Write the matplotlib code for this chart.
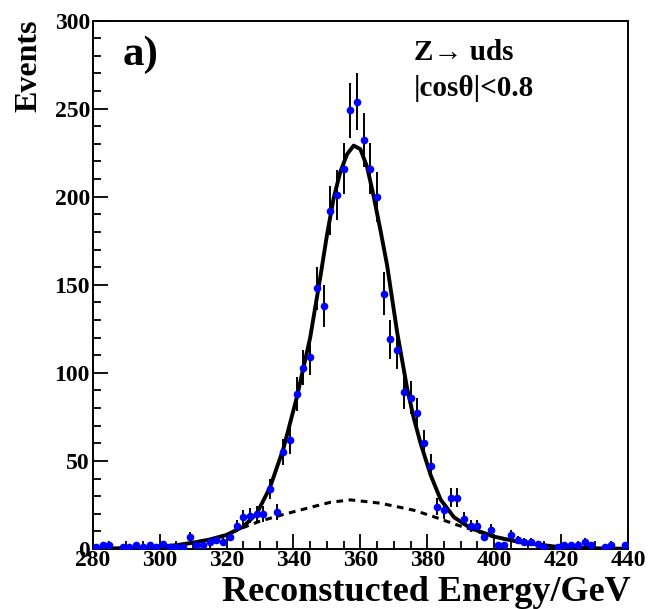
import numpy as np
import matplotlib
matplotlib.use("Agg")
import matplotlib.pyplot as plt
from matplotlib.ticker import MultipleLocator

plt.rcParams['font.family'] = ['Liberation Serif', 'DejaVu Serif']
plt.rcParams['font.weight'] = 'bold'

# histogram: 2 GeV bins from 280 to 440
bin_centers = np.arange(281, 440, 2)
counts = [1, 2, 2, 0, 1, 1, 2, 1, 2, 1,
          3, 1, 1, 1, 7, 2, 2, 4, 5, 4,
          7, 13, 18, 19, 20, 20, 34, 21, 55, 62,
          88, 103, 109, 148, 138, 192, 201, 216, 249, 254,
          232, 216, 200, 145, 119, 113, 89, 86, 77, 60,
          47, 24, 22, 29, 29, 17, 13, 13, 7, 11,
          2, 2, 8, 5, 4, 4, 3, 1, 0, 1,
          2, 2, 2, 4, 2, 0, 1, 2, 0, 2]

# total fit curve
fit_e = [280, 290, 295, 300, 305, 310, 315, 320, 325, 329, 333, 337, 341, 345,
         348, 350, 352, 354, 356, 358, 360, 362, 364, 366, 368, 371, 374, 376,
         378, 381, 384, 388, 393, 400, 408, 418, 430, 440]
fit_n = [0.2, 0.5, 0.8, 1.3, 2.2, 3.6, 5.4, 8.0, 12.7, 20, 35, 57, 86, 120,
         154, 178, 199, 214, 224, 229, 227, 217, 200, 181, 161, 123, 91, 74,
         60, 42, 28, 18, 11.8, 7, 3.8, 1.4, 0.4, 0.15]

# background component (dotted)
bkg_e = [300, 305, 310, 315, 320, 325, 330, 337, 345, 351, 357, 366, 376,
         382, 389, 394, 400, 408, 418, 430]
bkg_n = [1.2, 2.1, 3.5, 5.3, 7.9, 12.2, 15.8, 19.6, 23.6, 26.5, 27.9, 26,
         22, 18.3, 13.6, 10.6, 6.8, 3.7, 1.3, 0.3]

x = np.array(bin_centers, dtype=float)
y = np.array(counts, dtype=float)
keep = y > 0

fig = plt.figure(figsize=(6.5, 6.09), dpi=100)
ax = fig.add_axes([0.1426, 0.0985, 0.8236, 0.8678])

ax.plot(bkg_e, bkg_n, color='black', lw=2.2, ls=(0, (2.2, 1.8)), zorder=2)
ax.plot(fit_e, fit_n, color='black', lw=2.8, zorder=3)
ax.errorbar(x[keep], y[keep], yerr=np.sqrt(y[keep]), fmt='o', color='blue',
            ms=4.5, mec='blue', ecolor='black', elinewidth=1.4, capsize=0,
            zorder=4)

ax.set_xlim(280, 440)
ax.set_ylim(0, 300)
ax.xaxis.set_major_locator(MultipleLocator(20))
ax.xaxis.set_minor_locator(MultipleLocator(5))
ax.yaxis.set_major_locator(MultipleLocator(50))
ax.yaxis.set_minor_locator(MultipleLocator(10))
ax.tick_params(which='both', direction='in', top=False, right=False,
               width=1.3, labelsize=17)
ax.tick_params(which='major', length=11)
ax.tick_params(which='minor', length=6)
ax.tick_params(axis='x', pad=1)
ax.tick_params(axis='y', pad=2)
for s in ax.spines.values():
    s.set_linewidth(1.4)

fig.text(0.045, 0.968, 'Events', rotation=90, ha='center', va='top',
         fontsize=23, fontweight='bold')
fig.text(0.97, 0.0, 'Reconstucted Energy/GeV', ha='right', va='bottom',
         fontsize=26, fontweight='bold')

ax.text(0.09, 0.935, 'a)', transform=ax.transAxes, ha='center', va='center',
        fontsize=31, fontweight='bold')
ax.text(0.6, 0.94, 'Z\u2192 uds', transform=ax.transAxes, ha='left',
        va='center', fontsize=21, fontweight='bold')
ax.text(0.6, 0.872, '|cos\u03b8|<0.8', transform=ax.transAxes, ha='left',
        va='center', fontsize=21, fontweight='bold')

fig.savefig('out.png', dpi=100)
